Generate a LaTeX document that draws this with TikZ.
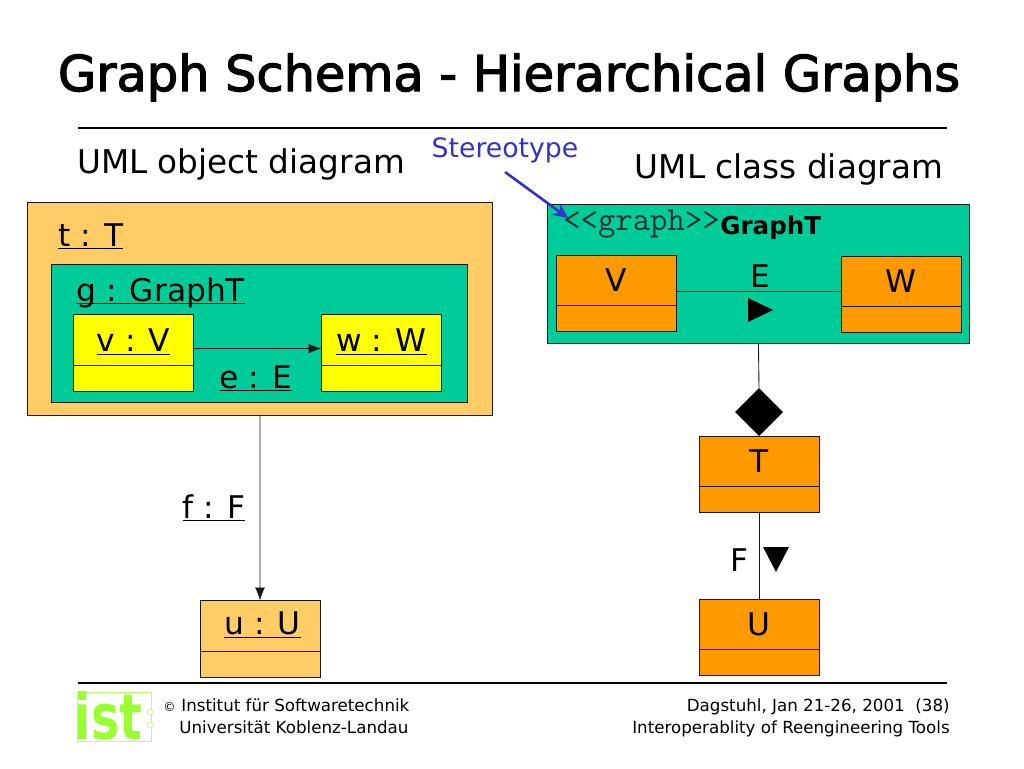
\documentclass[tikz,border=0pt]{standalone}
\usepackage{fontspec}
\setmainfont{DejaVu Sans}
\newfontfamily\titlefont[FakeBold=2.5]{DejaVu Sans}
\usetikzlibrary{arrows.meta,positioning,shapes.geometric}
\definecolor{ink}{HTML}{1A1A1A}
\definecolor{pkggreen}{HTML}{00CC99}
\definecolor{clsorange}{HTML}{FF9900}
\definecolor{objorange}{HTML}{FFCC66}
\definecolor{objyellow}{HTML}{FFFF00}
\definecolor{noteblue}{HTML}{3333CC}
\definecolor{istgreen}{HTML}{99FF33}
\newcommand{\ulab}[1]{\underline{\smash{#1}}}
\tikzset{
  head/.style={draw=ink,line width=0.5pt,outer sep=0pt,inner sep=0pt,anchor=north west,
    minimum width=2.4cm,minimum height=1.02cm,text height=13pt,text depth=0pt,font=\fontsize{17.8}{22}\selectfont},
  foot/.style={draw=ink,line width=0.5pt,outer sep=0pt,inner sep=0pt,
    minimum width=2.4cm,minimum height=0.52cm},
  frame/.style={draw=ink,line width=0.5pt,outer sep=0pt,inner sep=0pt,anchor=north west},
  link/.style={ink,line width=0.5pt},
  lab/.style={inner sep=0pt,anchor=base,font=\fontsize{17.8}{22}\selectfont},
  rule/.style={black,line width=1.2pt},
  foottext/.style={inner sep=0pt,font=\fontsize{9.5}{12}\selectfont},
  heading/.style={inner sep=0pt,anchor=base,font=\fontsize{18.6}{22}\selectfont},
}

\begin{document}
\begin{tikzpicture}[x=0.02cm,y=-0.02cm]
\useasboundingbox (0,0) rectangle (1024,768);

% ---------------------------------------------------------------- title
\node[inner sep=0pt,anchor=base,font=\titlefont\fontsize{28.1}{34}\selectfont] (title) at (509,91) {Graph Schema - Hierarchical Graphs};
\draw[rule] (78,128) -- (947,128);
\draw[rule] (78,683) -- (947,683);
\node[heading] (objhead) at (241,173) {UML object diagram};
\node[heading] (clshead) at (789,178) {UML class diagram};

% ---------------------------------------------------------------- object diagram
\node[frame,fill=objorange,minimum width=9.32cm,minimum height=4.26cm] (t) at (27,202) {};
\node[lab,anchor=base west] (tlab) at (58,246) {\ulab{t : T}};
\node[frame,fill=pkggreen,minimum width=8.34cm,minimum height=2.76cm] (g) at (51,264) {};
\node[lab,anchor=base west] (glab) at (76,301) {\ulab{g : GraphT}};
\node[head,fill=objyellow] (v) at (73.5,314.5) {\ulab{v : V}};
\node[foot,fill=objyellow,below=0pt of v] (vfoot) {};
\node[head,fill=objyellow] (w) at (321.5,314.5) {\ulab{w : W}};
\node[foot,fill=objyellow,below=0pt of w] (wfoot) {};
\draw[link,-{Latex[length=2.6mm,width=2mm]}] ([yshift=-0.17cm]v.east) -- ([yshift=-0.17cm]w.west);
\node[lab] (elab) at (256,388) {\ulab{e : E}};
\node[head,fill=objorange,text depth=3pt] (u) at (200,600.5) {\hspace*{3pt}\ulab{u : U}};
\node[foot,fill=objorange,below=0pt of u] (ufoot) {};
\draw[link,-{Latex[length=2.6mm,width=2mm]}] (t.south) -- (u.north);
\node[lab] (flab) at (214,518) {\ulab{f : F}};

% ---------------------------------------------------------------- class diagram
\node[frame,fill=pkggreen,minimum width=8.46cm,minimum height=2.78cm] (gt) at (547,204) {};
\node[inner sep=0pt,anchor=base west,text=ink!90,font=\ttfamily\fontsize{19.2}{22}\selectfont] (stype) at (563,230) {{<}{<}graph{>}{>}};
\node[inner sep=0pt,anchor=base west,font=\bfseries\fontsize{14}{18}\selectfont] (gtlab) at (720,234) {GraphT};
\node[head,fill=clsorange,minimum height=1cm] (V) at (556,255.5) {V};
\node[foot,fill=clsorange,below=0pt of V] (Vfoot) {};
\node[head,fill=clsorange,minimum height=1cm] (W) at (841,256.5) {W};
\node[foot,fill=clsorange,below=0pt of W] (Wfoot) {};
\draw[link] ([yshift=-0.22cm]V.east) -- ([yshift=-0.2cm]W.west);
\node[lab] (Elab) at (760,287) {E};
\fill[black] (748,298) -- (773,310) -- (748,322) -- cycle;
\node[diamond,fill=black,aspect=1,inner sep=0pt,minimum width=0.96cm,minimum height=0.96cm,outer sep=0pt] (agg) at (759,412) {};
\draw[link] (gt.south) -- (agg.north);
\node[head,fill=clsorange,minimum height=1cm] (T) at (699,436.5) {T};
\node[foot,fill=clsorange,below=0pt of T] (Tfoot) {};
\node[head,fill=clsorange,minimum height=1cm] (U) at (699,599.5) {U};
\node[foot,fill=clsorange,below=0pt of U] (Ufoot) {};
\draw[link] (Tfoot.south) -- (U.north);
\node[lab] (Flab) at (739,571) {F};
\fill[black] (763,547) -- (789,547) -- (776,572) -- cycle;

% ---------------------------------------------------------------- stereotype note
\node[inner sep=0pt,anchor=base,text=noteblue,font=\fontsize{15.2}{18}\selectfont] (note) at (505,157) {Stereotype};
\coordinate (notetail) at (505,172);
\coordinate (notetip) at (568,218);
\draw[noteblue,line width=1.5pt,-{Stealth[length=3mm,width=2.8mm]}] (notetail) -- (notetip);

% ---------------------------------------------------------------- footer
\node[draw=istgreen!70,line width=0.4pt,minimum width=1.48cm,minimum height=0.98cm,inner sep=0pt,outer sep=0pt] (logo) at (114,717) {};
\node[inner sep=0pt,anchor=base,text=istgreen,font=\bfseries\fontsize{36}{36}\selectfont] (ist) at (108.5,739) {\scalebox{0.75}[1]{ist}};
\draw[istgreen!70,fill=white,line width=0.4pt] (150,712) circle (3) (150,725) circle (3);
\node[inner sep=0pt,anchor=base west,font=\fontsize{7}{9}\selectfont] (copy) at (163,711) {©};
\node[foottext,anchor=base west] (inst) at (181,711) {Institut für Softwaretechnik};
\node[foottext,anchor=base west] (uni) at (179,733) {Universität Koblenz-Landau};
\node[foottext,anchor=base east] (place) at (950,711) {Dagstuhl, Jan 21-26, 2001\ \ (38)};
\node[foottext,anchor=base east] (tools) at (950,733) {Interoperablity of Reengineering Tools};

\end{tikzpicture}
\end{document}
